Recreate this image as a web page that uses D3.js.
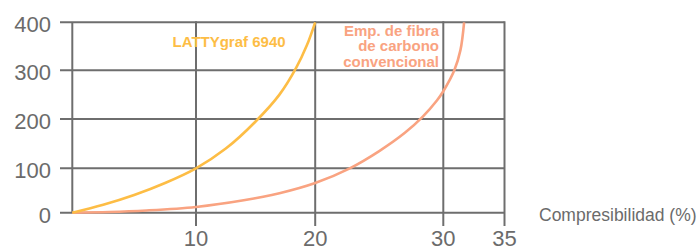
<!DOCTYPE html>
<html>
<head>
<meta charset="utf-8">
<script src="https://cdn.jsdelivr.net/npm/d3@7"></script>
<style>
  html, body { margin: 0; padding: 0; background: #fff; }
  svg { display: block; }
  text { font-family: "Liberation Sans", Arial, Helvetica, sans-serif; }
</style>
</head>
<body>
<svg id="chart" width="700" height="249"></svg>
<script>
// ---- data ----
const xTicks = [10, 20, 30, 35];
const yTicks = [0, 100, 200, 300, 400];
const xTitle = "Compresibilidad (%)";

const lattyX = [0, 2.5, 5, 7.5, 10, 12.5, 15, 17, 18.4, 19.3, 20];
const lattyY = [0, 18, 40, 67, 100, 140, 195, 250, 305, 352, 400];
const lattyLabel = ["LATTYgraf 6940"];

const carbonX = [0, 3, 6, 10, 14, 17, 20, 22.7, 25, 27, 28.4, 29.5, 30, 30.9, 31.4, 31.7];
const carbonY = [0, 1.5, 5, 13, 28, 44, 67, 100, 135, 172, 205, 238, 257, 300, 342, 400];
const carbonLabel = ["Emp. de fibra", "de carbono", "convencional"];

// ---- layout ----
const svg = d3.select("#chart");
const gray = "#6e6e6e";
const textGray = "#6b6b6b";
const yellow = "#fdbd45";
const salmon = "#f9a381";

const x = d3.scaleLinear().domain([0, 10, 20, 30, 35]).range([72.3, 196, 315.2, 443.3, 504.5]);
const y = d3.scaleLinear().domain([0, 100, 200, 300, 400]).range([212.7, 168.3, 119, 70.3, 22.3]);

// horizontal grid lines (incl. left ticks)
svg.append("g").selectAll("line").data(yTicks).join("line")
  .attr("x1", 60).attr("x2", x(35))
  .attr("y1", d => y(d)).attr("y2", d => y(d))
  .attr("stroke", gray).attr("stroke-width", 2);

// left axis
svg.append("line")
  .attr("x1", x(0)).attr("x2", x(0))
  .attr("y1", y(400)).attr("y2", y(0))
  .attr("stroke", gray).attr("stroke-width", 2);

// vertical grid lines with bottom ticks
svg.append("g").selectAll("line").data(xTicks).join("line")
  .attr("x1", d => x(d)).attr("x2", d => x(d))
  .attr("y1", y(400) - 1).attr("y2", 226)
  .attr("stroke", gray).attr("stroke-width", 2);

// y labels
svg.append("g").selectAll("text").data(yTicks).join("text")
  .attr("x", 51).attr("y", d => y(d) + 10)
  .attr("text-anchor", "end")
  .attr("font-size", "22px").attr("fill", textGray)
  .text(d => d);

// x labels
svg.append("g").selectAll("text").data(xTicks).join("text")
  .attr("x", d => x(d)).attr("y", 245.5)
  .attr("text-anchor", "middle")
  .attr("font-size", "22px").attr("fill", textGray)
  .text(d => d);

svg.append("text")
  .attr("x", 539).attr("y", 221)
  .attr("font-size", "17.5px").attr("fill", textGray)
  .text(xTitle);

// curves
const line = d3.line().x(d => x(d[0])).y(d => y(d[1])).curve(d3.curveCatmullRom.alpha(0.5));

svg.append("path")
  .datum(carbonX.map((v, i) => [v, carbonY[i]]))
  .attr("d", line).attr("fill", "none")
  .attr("stroke", salmon).attr("stroke-width", 2.6);

svg.append("path")
  .datum(lattyX.map((v, i) => [v, lattyY[i]]))
  .attr("d", line).attr("fill", "none")
  .attr("stroke", yellow).attr("stroke-width", 2.6);

// labels
svg.append("text")
  .attr("x", 172.5).attr("y", 47)
  .attr("font-size", "15px").attr("font-weight", "bold").attr("fill", yellow)
  .text(lattyLabel[0]);

svg.append("g").selectAll("text").data(carbonLabel).join("text")
  .attr("x", 439).attr("y", (d, i) => 35.7 + i * 15.5)
  .attr("text-anchor", "end")
  .attr("font-size", "15px").attr("font-weight", "bold").attr("fill", salmon)
  .text(d => d);
</script>
</body>
</html>
